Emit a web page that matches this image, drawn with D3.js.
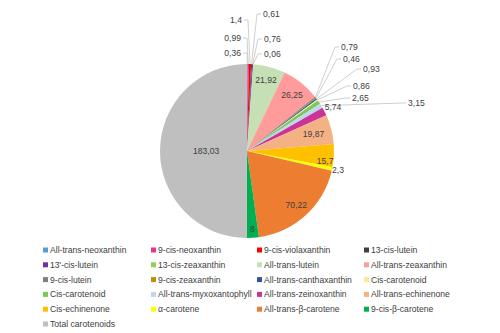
<!doctype html>
<html>
<head>
<script src="https://cdn.jsdelivr.net/npm/d3@7"></script>
<style>
  body { margin: 0; background: #fff; }
  svg { display: block; font-family: "Liberation Sans", Arial, sans-serif; }
</style>
</head>
<body>
<svg width="500" height="333"></svg>
<script>
var categories = ["All-trans-neoxanthin", "9-cis-neoxanthin", "9-cis-violaxanthin", "13-cis-lutein",
  "13'-cis-lutein", "13-cis-zeaxanthin", "All-trans-lutein", "All-trans-zeaxanthin",
  "9-cis-lutein", "9-cis-zeaxanthin", "All-trans-canthaxanthin", "Cis-carotenoid",
  "Cis-carotenoid", "All-trans-myxoxantophyll", "All-trans-zeinoxanthin", "All-trans-echinenone",
  "Cis-echinenone", "α-carotene", "All-trans-β-carotene", "9-cis-β-carotene", "Total carotenoids"];
var values = [0.36, 0.99, 1.4, 0.61, 0.76, 0.06, 21.92, 26.25, 0.79, 0.46, 0.93, 0.86,
  2.65, 3.15, 5.74, 19.87, 15.7, 2.3, 70.22, 8, 183.03];
var colors = ["#5b9bd5", "#e0378f", "#ff0000", "#404040", "#7030a0", "#92d050", "#c5e0b4", "#ff9b9b",
  "#7f7f7f", "#bf9000", "#2f5597", "#ffe699", "#7cc957", "#bdd7ee", "#cc3399", "#f4b183",
  "#ffc000", "#ffff00", "#ed7d31", "#00b050", "#bfbfbf"];

// label placement: radial factor for labels sitting on/near the slice
var radialPos = {6: 0.85, 7: 0.83, 14: 1.11, 15: 0.79, 16: 0.9, 17: 1.07, 18: 0.84, 19: 0.9, 20: 0.47};
var nudge = {16: [0, 6]};
// labels moved away with leader lines (offset from pie centre)
var leaderPos = {
  0: [-6, -98, "end"], 1: [-6, -113, "end"], 2: [-5, -131, "end"],
  3: [16, -137, "start"], 4: [17, -112, "start"], 5: [17, -97, "start"],
  8: [94, -104, "start"], 9: [96, -92, "start"], 10: [116, -82, "start"],
  11: [106, -65, "start"], 12: [105, -53, "start"], 13: [161, -48, "start"]
};

var svg = d3.select("svg");
var cx = 247, cy = 151, r = 87;
var fmt = function(v) { return String(v).replace(".", ","); };

var pie = d3.pie().sort(null).value(function(d) { return d; });
var arcs = pie(values);
var arc = d3.arc().innerRadius(0).outerRadius(r);

var g = svg.append("g").attr("transform", "translate(" + cx + "," + cy + ")");

g.selectAll("path.slice")
  .data(arcs)
  .enter().append("path")
  .attr("class", "slice")
  .attr("d", arc)
  .style("fill", function(d, i) { return colors[i]; });

function mid(d) { return (d.startAngle + d.endAngle) / 2; }

// leader lines
var leaders = arcs.map(function(d, i) { return {d: d, i: i}; })
  .filter(function(o) { return leaderPos[o.i]; });

g.selectAll("polyline.leader")
  .data(leaders)
  .enter().append("polyline")
  .attr("class", "leader")
  .attr("points", function(o) {
    var a = mid(o.d), p = leaderPos[o.i];
    var sx = Math.sin(a) * r, sy = -Math.cos(a) * r;
    var ex = p[2] == "end" ? p[0] + 2 : p[0] - 2;
    var kx = p[2] == "end" ? ex + 4 : ex - 4;
    return [[sx, sy], [kx, p[1]], [ex, p[1]]].join(" ");
  })
  .style("fill", "none")
  .style("stroke", "#bfbfbf")
  .style("stroke-width", 0.75);

g.selectAll("text.lbl")
  .data(arcs)
  .enter().append("text")
  .attr("class", "lbl")
  .attr("x", function(d, i) {
    if (leaderPos[i]) return leaderPos[i][0];
    return Math.sin(mid(d)) * r * radialPos[i] + (nudge[i] ? nudge[i][0] : 0);
  })
  .attr("y", function(d, i) {
    if (leaderPos[i]) return leaderPos[i][1];
    return -Math.cos(mid(d)) * r * radialPos[i] + (nudge[i] ? nudge[i][1] : 0);
  })
  .attr("dy", "0.35em")
  .attr("text-anchor", function(d, i) { return leaderPos[i] ? leaderPos[i][2] : "middle"; })
  .style("font-size", "8.6px")
  .style("fill", "#404040")
  .text(function(d, i) { return fmt(values[i]); });

// legend, 4 columns
var colX = [43, 151, 257, 364];
var leg = svg.selectAll("g.leg")
  .data(categories)
  .enter().append("g")
  .attr("class", "leg")
  .attr("transform", function(d, i) {
    return "translate(" + colX[i % 4] + "," + (250 + Math.floor(i / 4) * 14.8) + ")";
  });

leg.append("rect")
  .attr("x", 0).attr("y", -2.5)
  .attr("width", 5).attr("height", 5)
  .style("fill", function(d, i) { return colors[i]; });

leg.append("text")
  .attr("x", 7)
  .attr("dy", "0.35em")
  .style("font-size", "8.6px")
  .style("fill", "#404040")
  .text(function(d) { return d; });
</script>
</body>
</html>
